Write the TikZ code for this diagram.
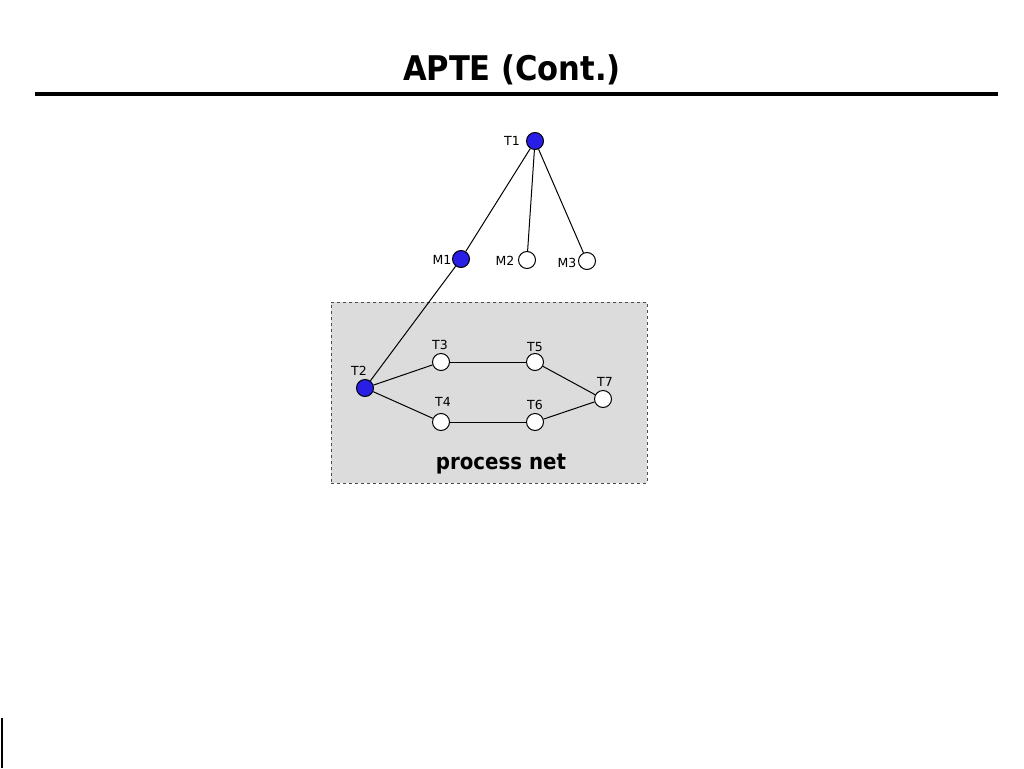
\documentclass[tikz,border=0pt]{standalone}
\usepackage{fontspec}
\setmainfont{DejaVu Sans}
\newfontfamily\condfont{DejaVu Sans Condensed}
\definecolor{nodeblue}{RGB}{40,30,230}
\definecolor{boxgray}{RGB}{220,220,220}
\begin{document}
\begin{tikzpicture}[x=1pt,y=-1pt,
  pn/.style={circle,draw=black,line width=1pt,minimum size=17pt,inner sep=0pt},
  blue/.style={pn,fill=nodeblue},
  white/.style={pn,fill=white},
  lbl/.style={font=\fontsize{12.5}{14}\selectfont,inner sep=0pt},
  edge/.style={line width=1pt}]
\useasboundingbox (0,0) rectangle (1024,768);
\node[font=\condfont\bfseries\fontsize{34}{40}\selectfont] (title) at (512,70) {APTE (Cont.)};
\draw[line width=3.5pt] (35,94) coordinate (l1) -- (998,94) coordinate (l2);
\draw[line width=2pt] (2,718) coordinate (b1) -- (2,768) coordinate (b2);
\node[draw=black!70,dashed,fill=boxgray,line width=0.9pt,minimum width=316pt,minimum height=181pt,inner sep=0pt] (box) at (489,392.5) {};
\node[font=\condfont\bfseries\fontsize{22}{25}\selectfont] (pnet) at (501,464) {process net};
\node[blue] (T1) at (535,141) {};
\node[blue] (M1) at (461,259) {};
\node[white] (M2) at (527,260) {};
\node[white] (M3) at (587,261) {};
\node[blue] (T2) at (365,388) {};
\node[white] (T3) at (441,362) {};
\node[white] (T4) at (441,422) {};
\node[white] (T5) at (535,362) {};
\node[white] (T6) at (535,422) {};
\node[white] (T7) at (603,399) {};
\node[lbl] (lT1) at (512,141) {T1};
\node[lbl] (lM1) at (442,260) {M1};
\node[lbl] (lM2) at (505,261) {M2};
\node[lbl] (lM3) at (567,263) {M3};
\node[lbl] (lT2) at (359,371) {T2};
\node[lbl] (lT3) at (440,345) {T3};
\node[lbl] (lT4) at (443,402) {T4};
\node[lbl] (lT5) at (535,347) {T5};
\node[lbl] (lT6) at (535,405) {T6};
\node[lbl] (lT7) at (605,382) {T7};
\draw[edge] (T1) -- (M1);
\draw[edge] (T1) -- (M2);
\draw[edge] (T1) -- (M3);
\draw[edge] (M1) -- (T2);
\draw[edge] (T2) -- (T3);
\draw[edge] (T2) -- (T4);
\draw[edge] (T3) -- (T5);
\draw[edge] (T4) -- (T6);
\draw[edge] (T5) -- (T7);
\draw[edge] (T6) -- (T7);
\end{tikzpicture}
\end{document}
